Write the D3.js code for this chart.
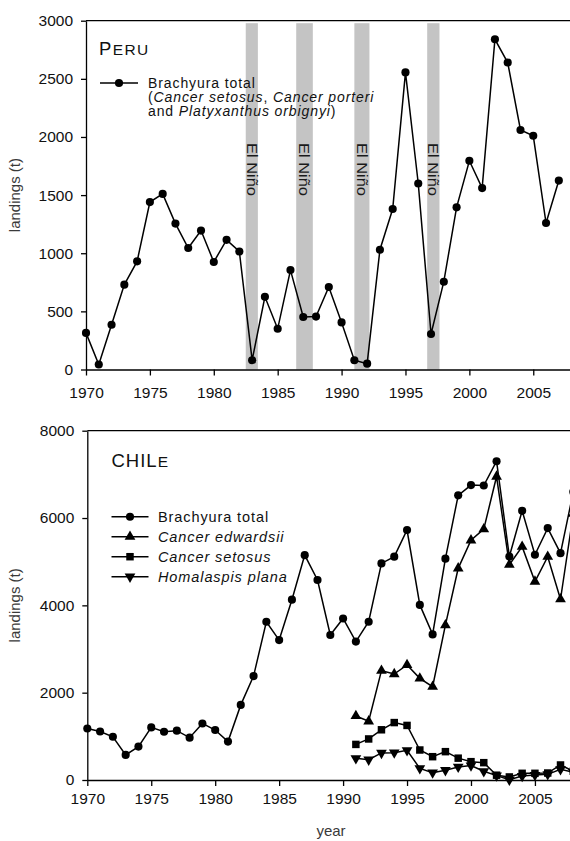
<!DOCTYPE html>
<html>
<head>
<meta charset="utf-8">
<script src="https://cdn.jsdelivr.net/npm/d3@7"></script>
<style>
  body { margin: 0; background: #fff; }
  svg { display: block; font-family: "Liberation Sans", Arial, sans-serif; }
  .tick text { font-size: 15.5px; fill: #111; }
</style>
</head>
<body>
<svg id="chart" width="570" height="841"></svg>
<script>
// --- data ---
const peruYears = [1970,1971,1972,1973,1974,1975,1976,1977,1978,1979,1980,1981,1982,1983,1984,1985,1986,1987,1988,1989,
                   1990,1991,1992,1993,1994,1995,1996,1997,1998,1999,2000,2001,2002,2003,2004,2005,2006,2007];
const peruTotal = [315,43,385,730,930,1440,1510,1255,1045,1195,925,1115,1015,80,625,350,855,452,455,710,
                   405,80,50,1030,1380,2555,1600,305,755,1395,1795,1560,2840,2640,2060,2010,1260,1625];
const elNinoStart = [1982.5, 1986.45, 1991.0, 1996.7];
const elNinoEnd   = [1983.45, 1987.75, 1992.18, 1997.66];

const chileYears = [1970,1971,1972,1973,1974,1975,1976,1977,1978,1979,1980,1981,1982,1983,1984,1985,1986,1987,1988,1989,
                    1990,1991,1992,1993,1994,1995,1996,1997,1998,1999,2000,2001,2002,2003,2004,2005,2006,2007,2008];
const chileTotal = [1180,1110,990,575,765,1205,1105,1130,970,1295,1145,880,1720,2380,3625,3205,4130,5150,4580,3320,
                    3700,3170,3625,4960,5115,5725,4010,3335,5070,6520,6755,6745,7300,5120,6165,5160,5770,5195,6600];
const speciesYears = [1991,1992,1993,1994,1995,1996,1997,1998,1999,2000,2001,2002,2003,2004,2005,2006,2007,2008];
const edwardsii  = [1466,1345,2504,2427,2634,2328,2137,3545,4848,5490,5745,6950,4930,5345,4545,5115,4140,6100];
const setosus    = [815,940,1150,1315,1250,687,534,649,500,420,397,110,70,153,153,160,344,200];
const plana      = [496,465,620,626,680,267,168,225,300,330,200,100,5,92,115,130,245,180];

const peruTicksY  = [0,500,1000,1500,2000,2500,3000];
const chileTicksY = [0,2000,4000,6000,8000];
const yearTicks   = [1970,1975,1980,1985,1990,1995,2000,2005];

const svg = d3.select('#chart');
const W = 570;

const sym = {
  circle:  d3.symbol().type(d3.symbolCircle).size(52),
  square:  d3.symbol().type(d3.symbolSquare).size(56),
  triUp:   d3.symbol().type(d3.symbolTriangle).size(50),
  triDown: d3.symbol().type(d3.symbolTriangle).size(50),
};

function series(g, x, y, xs, ys, shape) {
  const pts = xs.map((d, i) => [d, ys[i]]);
  g.append('path')
    .datum(pts)
    .attr('fill', 'none').attr('stroke', '#000').attr('stroke-width', 1.5)
    .attr('d', d3.line().x(d => x(d[0])).y(d => y(d[1])));
  g.selectAll(null).data(pts).enter().append('path')
    .attr('d', sym[shape]())
    .attr('fill', '#000')
    .attr('transform', d => `translate(${x(d[0])},${y(d[1])})` + (shape === 'triDown' ? ' rotate(180)' : ''));
}

function frame(g, x, y, yTicks, xPad) {
  g.append('line')
    .attr('x1', x.range()[0]).attr('x2', W + 5)
    .attr('y1', y.range()[1]).attr('y2', y.range()[1])
    .attr('stroke', '#000').attr('stroke-width', 1.3);

  const ax = g.append('g')
    .attr('transform', `translate(0,${y.range()[0]})`)
    .call(d3.axisBottom(x).tickValues(yearTicks).tickFormat(d3.format('d'))
      .tickSize(6).tickSizeOuter(0).tickPadding(xPad));
  const ay = g.append('g')
    .attr('transform', `translate(${x.range()[0]},0)`)
    .call(d3.axisLeft(y).tickValues(yTicks).tickFormat(d3.format('d'))
      .tickSize(5).tickSizeOuter(0).tickPadding(8));
  [ax, ay].forEach(a => {
    a.attr('font-family', null).attr('font-size', null);
    a.selectAll('path,line').attr('stroke', '#000').attr('stroke-width', 1.3);
  });
}

function legendLine(g, x1, x2, y0, shape) {
  g.append('line').attr('x1', x1).attr('x2', x2).attr('y1', y0).attr('y2', y0)
    .attr('stroke', '#000').attr('stroke-width', 1.5);
  g.append('path').attr('d', sym[shape]())
    .attr('transform', `translate(${(x1 + x2) / 2},${y0})` + (shape === 'triDown' ? ' rotate(180)' : ''));
}

// lines: array of lines, each an array of [text, italic]
function richText(g, x0, y0, lines, size = 14.5, lead = 14) {
  const t = g.append('text').attr('x', x0).attr('y', y0)
    .attr('font-size', size).attr('letter-spacing', 0.9).attr('fill', '#111');
  lines.forEach((parts, li) => {
    parts.forEach((p, pi) => {
      const s = t.append('tspan').attr('font-style', p[1] ? 'italic' : 'normal').text(p[0]);
      if (pi === 0 && li > 0) s.attr('x', x0).attr('dy', lead);
    });
  });
  return t;
}

// ===== PERU =====
{
  const g = svg.append('g');
  const x = d3.scaleLinear().domain([1970, 2008]).range([86, 571.6]);
  const y = d3.scaleLinear().domain([0, 3000]).range([369.5, 20.7]);

  g.selectAll('.nino').data(elNinoStart).enter().append('rect')
    .attr('x', d => x(d))
    .attr('width', (d, i) => x(elNinoEnd[i]) - x(d))
    .attr('y', y.range()[1] + 2.5)
    .attr('height', y.range()[0] - y.range()[1] - 2.5)
    .attr('fill', '#c4c4c4');

  g.selectAll('.ninoLabel').data(elNinoStart).enter().append('text')
    .attr('transform', (d, i) => `translate(${(x(d) + x(elNinoEnd[i])) / 2},143) rotate(90)`)
    .attr('dy', '0.36em')
    .attr('font-size', 14).attr('fill', '#1a1a1a')
    .attr('textLength', 53).attr('lengthAdjust', 'spacingAndGlyphs')
    .text('El Niño');

  series(g, x, y, peruYears, peruTotal, 'circle');
  frame(g, x, y, peruTicksY, 11);

  const lab = g.append('text').attr('x', 99).attr('y', 55).attr('fill', '#111').attr('letter-spacing', 1.4);
  lab.append('tspan').attr('font-size', 18.5).text('P');
  lab.append('tspan').attr('font-size', 15.5).text('ERU');

  legendLine(g, 100, 138, 83, 'circle');
  richText(g, 148, 87.5, [
    [['Brachyura total', false]],
    [['(', false], ['Cancer setosus', true], [', ', false], ['Cancer porteri', true]],
    [['and ', false], ['Platyxanthus orbignyi', true], [')', false]],
  ], 14, 14);

  g.append('text')
    .attr('transform', `translate(20,${(y.range()[0] + y.range()[1]) / 2}) rotate(-90)`)
    .attr('text-anchor', 'middle').attr('font-size', 15).attr('fill', '#3a3a3a')
    .text('landings (t)');
}

// ===== CHILE =====
{
  const g = svg.append('g');
  const x = d3.scaleLinear().domain([1970, 2008]).range([87.3, 573.3]);
  const y = d3.scaleLinear().domain([0, 8000]).range([780, 430.7]);

  series(g, x, y, chileYears, chileTotal, 'circle');
  series(g, x, y, speciesYears, edwardsii, 'triUp');
  series(g, x, y, speciesYears, setosus, 'square');
  series(g, x, y, speciesYears, plana, 'triDown');
  frame(g, x, y, chileTicksY, 7);

  const lab = g.append('text').attr('x', 111.5).attr('y', 467).attr('fill', '#111').attr('letter-spacing', 1);
  lab.append('tspan').attr('font-size', 18.5).text('CHIL');
  lab.append('tspan').attr('font-size', 15.5).text('E');

  const rows = [['Brachyura total', false, 'circle'], ['Cancer edwardsii', true, 'triUp'],
                ['Cancer setosus', true, 'square'], ['Homalaspis plana', true, 'triDown']];
  rows.forEach((r, i) => {
    const yy = 516.7 + i * 20;
    legendLine(g, 111.5, 148.5, yy, r[2]);
    richText(g, 158, yy + 5.5, [[[r[0], r[1]]]]);
  });

  g.append('text')
    .attr('transform', `translate(20,${(y.range()[0] + y.range()[1]) / 2}) rotate(-90)`)
    .attr('text-anchor', 'middle').attr('font-size', 15).attr('fill', '#3a3a3a')
    .text('landings (t)');

  g.append('text').attr('x', 331).attr('y', 836).attr('text-anchor', 'middle')
    .attr('font-size', 15).attr('fill', '#3a3a3a').text('year');
}
</script>
</body>
</html>
